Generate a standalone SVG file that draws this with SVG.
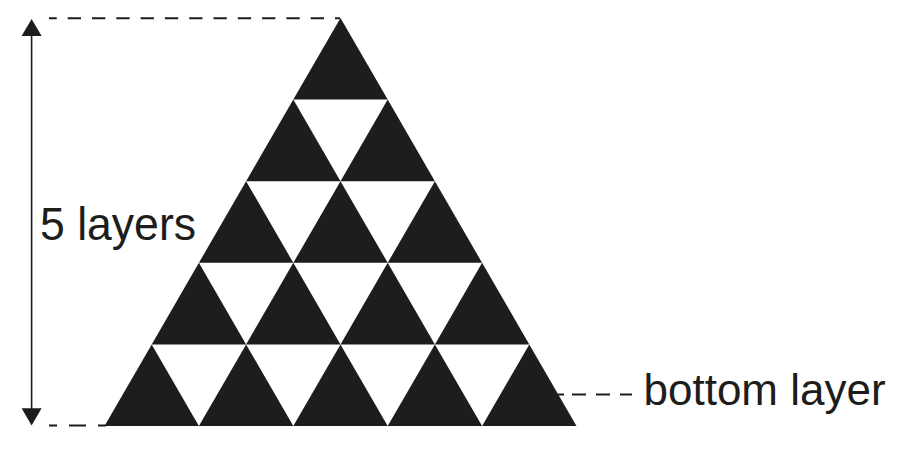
<svg xmlns="http://www.w3.org/2000/svg" xmlns:xlink="http://www.w3.org/1999/xlink" width="912" height="451" viewBox="0 0 912 451">
  <style>
    .tri { fill: #1d1d1b; }
    .dash { stroke: #1d1d1b; stroke-width: 2; fill: none; }
    .dim { stroke: #1d1d1b; stroke-width: 1.6; fill: none; }
    .head { fill: #1d1d1b; }
    .lbl { font-family: "Liberation Sans", Arial, sans-serif; fill: #1d1d1b; }
  </style>
  <defs>
    <path id="t" class="tri" d="M0 81.6 L47.2 0 L94.4 81.6 Z"/>
  </defs>
  <rect width="912" height="451" fill="#ffffff"/>

  <g id="pyramid">
    <use xlink:href="#t" href="#t" x="293.3" y="18"/>

    <use xlink:href="#t" href="#t" x="246.1" y="99.6"/>
    <use xlink:href="#t" href="#t" x="340.5" y="99.6"/>

    <use xlink:href="#t" href="#t" x="198.9" y="181.2"/>
    <use xlink:href="#t" href="#t" x="293.3" y="181.2"/>
    <use xlink:href="#t" href="#t" x="387.7" y="181.2"/>

    <use xlink:href="#t" href="#t" x="151.7" y="262.8"/>
    <use xlink:href="#t" href="#t" x="246.1" y="262.8"/>
    <use xlink:href="#t" href="#t" x="340.5" y="262.8"/>
    <use xlink:href="#t" href="#t" x="434.9" y="262.8"/>

    <use xlink:href="#t" href="#t" x="104.5" y="344.4"/>
    <use xlink:href="#t" href="#t" x="198.9" y="344.4"/>
    <use xlink:href="#t" href="#t" x="293.3" y="344.4"/>
    <use xlink:href="#t" href="#t" x="387.7" y="344.4"/>
    <use xlink:href="#t" href="#t" x="482.1" y="344.4"/>
  </g>

  <g id="connectors">
    <line class="dash" x1="49" y1="18.2" x2="340" y2="18.2" stroke-dasharray="13.3 11" stroke-dashoffset="5.6"/>
    <path class="dash" d="M49 425.5 H57 M69 425.5 H86 M98 425.5 H106"/>
    <path class="dash" d="M558 394.5 H564 M572 394.5 H586 M596 394.5 H610 M620 394.5 H632"/>
    <line class="dim" x1="31.6" y1="34" x2="31.6" y2="410"/>
    <path class="head" d="M31.6 19 L41.6 36 L21.6 36 Z"/>
    <path class="head" d="M31.6 425.5 L41.6 408.3 L21.6 408.3 Z"/>
  </g>

  <g id="labels">
    <text class="lbl" x="40" y="239.5" font-size="46" textLength="156" lengthAdjust="spacingAndGlyphs">5 layers</text>
    <text class="lbl" x="643.5" y="405" font-size="44">bottom layer</text>
  </g>
</svg>
